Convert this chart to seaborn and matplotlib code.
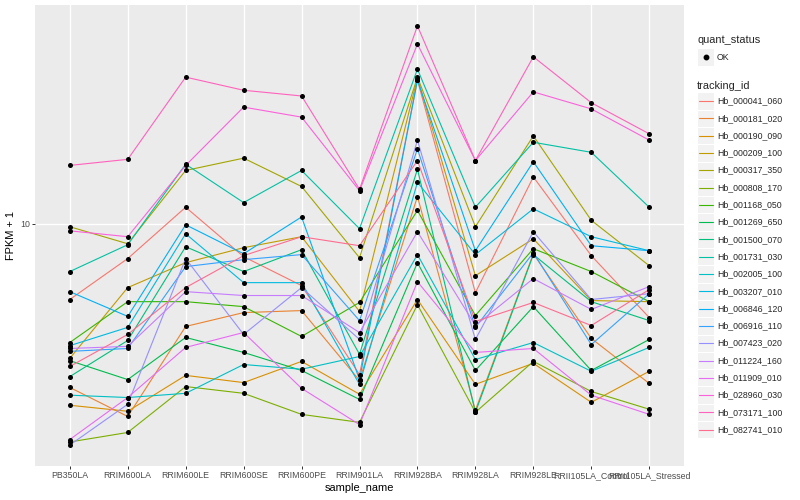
import matplotlib
matplotlib.use('Agg')
import numpy as np
import pandas as pd
import matplotlib.pyplot as plt
import seaborn as sns
from matplotlib.lines import Line2D
from matplotlib.patches import Rectangle

# samples on the x axis
samples = ['PB350LA', 'RRIM600LA', 'RRIM600LE', 'RRIM600SE', 'RRIM600PE',
           'RRIM901LA', 'RRIM928BA', 'RRIM928LA', 'RRIM928LE',
           'RRII105LA_Control', 'RRII105LA_Stressed']

tracking_ids = ['Hb_000041_060', 'Hb_000181_020', 'Hb_000190_090', 'Hb_000209_100',
                'Hb_000317_350', 'Hb_000808_170', 'Hb_001168_050', 'Hb_001269_650',
                'Hb_001500_070', 'Hb_001731_030', 'Hb_002005_100', 'Hb_003207_010',
                'Hb_006846_120', 'Hb_006916_110', 'Hb_007423_020', 'Hb_011224_160',
                'Hb_011909_010', 'Hb_028960_030', 'Hb_073171_100', 'Hb_082741_010']

# ggplot default hue colours
hue_colors = ['#F8766D', '#EA8331', '#D89000', '#C09B00', '#A3A500', '#7CAE00',
              '#39B600', '#00BB4E', '#00BF7D', '#00C1A3', '#00BFC4', '#00BAE0',
              '#00B0F6', '#35A2FF', '#9590FF', '#C77CFF', '#E76BF3', '#FA62DB',
              '#FF62BC', '#FF6C90']

# FPKM + 1 per gene, one value per sample
hb_000041_060 = [6.46, 8.18, 11.0, 8.27, 7.00, 4.19, 22.9, 6.72, 13.1, 8.32, 5.82]
hb_000181_020 = [3.89, 3.29, 5.53, 5.99, 6.06, 4.05, 11.7, 3.41, 8.41, 5.16, 3.98]
hb_000190_090 = [3.51, 3.39, 4.17, 4.00, 4.52, 3.74, 6.46, 3.96, 4.47, 3.57, 4.27]
hb_000209_100 = [4.60, 6.92, 7.99, 8.71, 9.28, 6.03, 23.2, 7.41, 9.17, 6.42, 6.38]
hb_000317_350 = [9.83, 8.91, 13.6, 14.6, 12.4, 8.22, 23.3, 9.83, 16.6, 10.2, 7.85]
hb_000808_170 = [2.84, 3.00, 3.91, 3.76, 3.33, 3.18, 6.27, 3.37, 4.52, 3.80, 3.43]
hb_001168_050 = [5.04, 6.38, 6.38, 6.20, 5.22, 6.35, 10.8, 5.89, 8.66, 7.59, 6.38]
hb_001269_650 = [4.54, 4.07, 5.19, 4.76, 4.29, 3.63, 7.99, 4.29, 6.20, 4.29, 5.13]
hb_001500_070 = [4.14, 5.10, 8.76, 7.59, 8.61, 4.71, 13.7, 3.37, 8.37, 6.38, 5.72]
hb_001731_030 = [7.59, 8.86, 14.1, 11.3, 13.6, 9.72, 24.4, 11.0, 16.0, 15.1, 11.0]
hb_002005_100 = [3.72, 3.67, 3.76, 4.44, 4.32, 4.65, 8.37, 4.57, 5.04, 4.27, 4.90]
hb_003207_010 = [4.95, 5.50, 9.44, 7.12, 7.12, 3.96, 12.7, 8.37, 10.9, 9.28, 8.56]
hb_006846_120 = [6.76, 5.86, 9.94, 8.41, 10.4, 4.07, 22.9, 8.56, 14.3, 8.81, 8.56]
hb_006916_110 = [4.79, 4.87, 7.81, 8.13, 8.37, 5.72, 15.4, 5.50, 8.46, 4.98, 6.68]
hb_007423_020 = [2.79, 3.53, 8.18, 5.28, 6.92, 5.13, 16.2, 5.13, 9.55, 6.46, 6.68]
hb_011224_160 = [4.87, 4.93, 6.76, 6.61, 6.61, 5.34, 9.55, 5.56, 7.29, 6.10, 6.96]
hb_011909_010 = [2.88, 3.67, 4.90, 5.34, 3.87, 3.14, 7.16, 4.76, 4.87, 3.72, 3.33]
hb_028960_030 = [9.60, 9.28, 14.0, 19.6, 18.5, 12.1, 28.2, 14.4, 21.4, 19.4, 16.2]
hb_073171_100 = [14.0, 14.5, 23.3, 21.6, 20.9, 12.2, 31.3, 14.4, 26.2, 20.1, 16.8]
hb_082741_010 = [4.39, 5.28, 6.92, 8.32, 9.28, 8.81, 14.4, 5.69, 6.35, 5.56, 6.84]

series = [hb_000041_060, hb_000181_020, hb_000190_090, hb_000209_100, hb_000317_350,
          hb_000808_170, hb_001168_050, hb_001269_650, hb_001500_070, hb_001731_030,
          hb_002005_100, hb_003207_010, hb_006846_120, hb_006916_110, hb_007423_020,
          hb_011224_160, hb_011909_010, hb_028960_030, hb_073171_100, hb_082741_010]

rows = []
for tid, vals in zip(tracking_ids, series):
    for s, v in zip(samples, vals):
        rows.append({'tracking_id': tid, 'sample_name': s, 'fpkm': v, 'quant_status': 'OK'})
df = pd.DataFrame(rows)

sns.set_theme(style='darkgrid')
plt.rcParams['font.family'] = ['Liberation Sans', 'DejaVu Sans']

W, H = 800, 500
fig = plt.figure(figsize=(8, 5), dpi=100)
ax = fig.add_axes([35 / W, 34 / H, 649 / W, 461 / H])
ax.set_facecolor('#EBEBEB')
ax.set_yscale('log')

sns.lineplot(data=df, x='sample_name', y='fpkm', hue='tracking_id',
             hue_order=tracking_ids, palette=hue_colors, linewidth=0.8,
             errorbar=None, legend=False, ax=ax)
sns.scatterplot(data=df, x='sample_name', y='fpkm', color='black', s=13,
                linewidth=0, legend=False, ax=ax, zorder=3)

# ggplot style 5% expansion on log scale
lo, hi = np.log10(df['fpkm'].min()), np.log10(df['fpkm'].max())
pad = 0.05 * (hi - lo)
ax.set_ylim(10 ** (lo - pad), 10 ** (hi + pad))
ax.set_xlim(-0.6, len(samples) - 1 + 0.6)

ax.set_yticks([10])
ax.set_yticklabels(['10'])
ax.yaxis.set_minor_locator(matplotlib.ticker.NullLocator())
ax.grid(True, which='major', color='white', linewidth=1.0)
ax.set_axisbelow(True)
for sp in ax.spines.values():
    sp.set_visible(False)
ax.tick_params(axis='both', length=2.0, width=0.7, color='#333333',
               labelsize=6.3, labelcolor='#4D4D4D', pad=1.5)
ax.tick_params(axis='both', which='both', bottom=True, left=True)
ax.set_xlabel('sample_name', fontsize=7.9, labelpad=2, color='black')
ax.set_ylabel('FPKM + 1', fontsize=7.9, labelpad=3, color='black')

# legends drawn by hand (ggplot look)
def fx(px):
    return px / W

def fy(py):
    return 1 - py / H

key = 17.3
fig.text(fx(697), fy(40), 'quant_status', fontsize=7.9, va='center', ha='left')
fig.add_artist(Rectangle((fx(697), fy(57 + key / 2)), key / W, key / H,
                         transform=fig.transFigure, facecolor='#F2F2F2',
                         edgecolor='white', linewidth=0.8))
fig.add_artist(Line2D([fx(697 + key / 2)], [fy(57)], marker='o', color='black',
                      markersize=3.2, linestyle='none', transform=fig.transFigure))
fig.text(fx(717), fy(57), 'OK', fontsize=6.3, va='center', ha='left')

fig.text(fx(697), fy(86), 'tracking_id', fontsize=7.9, va='center', ha='left')
for i, (tid, col) in enumerate(zip(tracking_ids, hue_colors)):
    yc = 101 + i * key
    fig.add_artist(Rectangle((fx(697), fy(yc + key / 2)), key / W, key / H,
                             transform=fig.transFigure, facecolor='#F2F2F2',
                             edgecolor='white', linewidth=0.8))
    fig.add_artist(Line2D([fx(699), fx(712.5)], [fy(yc), fy(yc)], color=col,
                          linewidth=0.8, transform=fig.transFigure))
    fig.text(fx(717), fy(yc), tid, fontsize=6.3, va='center', ha='left')

fig.savefig('out.png', dpi=100)
